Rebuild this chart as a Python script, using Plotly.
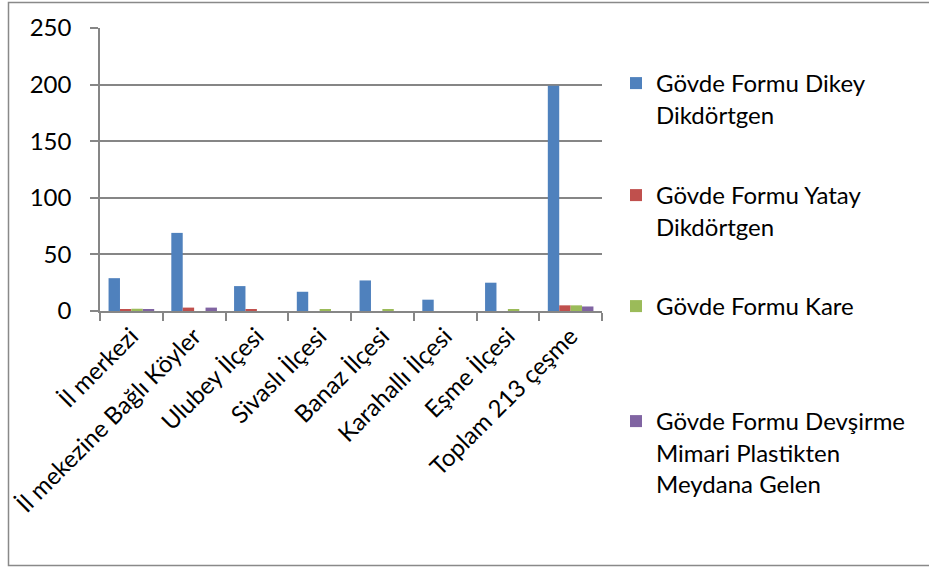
import plotly.graph_objects as go

categories = ["İl merkezi", "İl mekezine Bağlı Köyler", "Ulubey İlçesi", "Sivaslı İlçesi",
              "Banaz İlçesi", "Karahallı İlçesi", "Eşme İlçesi", "Toplam 213 çeşme"]
dikey = [29, 69, 22, 17, 27, 10, 25, 199]
yatay = [1, 3, 1, 0, 0, 0, 0, 5]
kare = [2, 0, 0, 1, 1, 0, 1, 5]
devsirme = [1, 3, 0, 0, 0, 0, 0, 4]

names = ["Gövde Formu Dikey<br>Dikdörtgen", "Gövde Formu Yatay<br>Dikdörtgen",
         "Gövde Formu Kare", "Gövde Formu Devşirme<br>Mimari Plastikten<br>Meydana Gelen"]
colors = ["#4F81BD", "#C0504D", "#9BBB59", "#8064A2"]
series = [dikey, yatay, kare, devsirme]

W, H = 929, 572
L, R, T, B = 100, 602, 28, 311
pw, ph = R - L, B - T

def px(x):
    return (x - L) / pw

def py(y):
    return (B - y) / ph

FONT = "Lato"
FS = 24

fig = go.Figure()
legend_names = ["legend", "legend2", "legend3", "legend4"]
for vals, nm, col, lg in zip(series, names, colors, legend_names):
    fig.add_trace(go.Bar(x=categories, y=vals, name=nm, marker_color=col,
                         marker_line_width=0, legend=lg))

legend_y = [84, 196, 307, 422]
layout_legends = {}
for lg, ly in zip(legend_names, legend_y):
    layout_legends[lg] = dict(x=px(616), y=py(ly - 23), xanchor="left", yanchor="top",
                              valign="top", bgcolor="rgba(0,0,0,0)",
                              font=dict(family=FONT, size=FS, color="#000000"))

fig.update_layout(
    width=W, height=H,
    margin=dict(l=L, r=W - R, t=T, b=H - B, autoexpand=False),
    paper_bgcolor="white", plot_bgcolor="white",
    barmode="group", bargap=1.5 / 5.5, bargroupgap=0,
    font=dict(family=FONT, size=FS, color="#000000"),
    showlegend=True,
    **layout_legends,
    xaxis=dict(showgrid=False, showline=True, linecolor="#868686", linewidth=1.5,
               ticks="outside", tickson="boundaries", ticklen=8, tickcolor="#868686",
               tickwidth=1.5, tickangle=-45, automargin=False,
               tickfont=dict(family=FONT, size=FS, color="#000000")),
    yaxis=dict(range=[0, 250], dtick=50, showgrid=True, gridcolor="#868686", gridwidth=1.5,
               showline=True, linecolor="#868686", linewidth=1.5, zeroline=False,
               ticks="outside", ticklen=8, tickcolor="#868686", tickwidth=1.5,
               ticklabelstandoff=14, automargin=False,
               tickfont=dict(family=FONT, size=FS, color="#000000")),
    shapes=[dict(type="rect", xref="paper", yref="paper",
                 x0=px(8.5), x1=px(940), y0=py(565.5), y1=py(2.5),
                 line=dict(color="#898989", width=1.5), fillcolor="rgba(0,0,0,0)")],
)

fig.write_html("out.html", config={"displayModeBar": False},
               post_script="document.body.style.margin='0';")
